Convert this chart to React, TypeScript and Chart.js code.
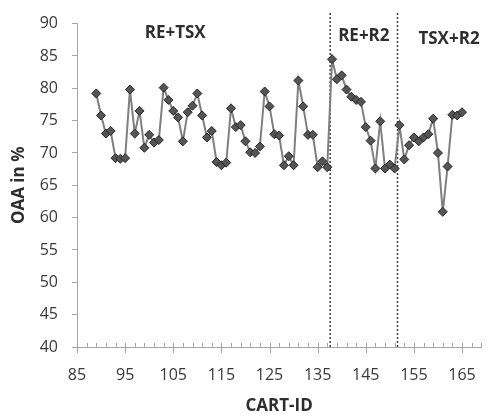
import React, { useEffect, useRef } from "react";
import { Chart, registerables } from "chart.js";

Chart.register(...registerables);

// ---- data ----
const cartIds = [
  89, 90, 91, 92, 93, 94, 95, 96, 97, 98, 99, 100, 101, 102, 103, 104, 105, 106, 107, 108,
  109, 110, 111, 112, 113, 114, 115, 116, 117, 118, 119, 120, 121, 122, 123, 124, 125, 126,
  127, 128, 129, 130, 131, 132, 133, 134, 135, 136, 137, 138, 139, 140, 141, 142, 143, 144,
  145, 146, 147, 148, 149, 150, 151, 152, 153, 154, 155, 156, 157, 158, 159, 160, 161, 162,
  163, 164, 165,
];
const oaaValues = [
  79.2, 75.8, 73.0, 73.4, 69.2, 69.1, 69.2, 79.8, 73.0, 76.5, 70.8, 72.8, 71.6, 72.0, 80.1,
  78.2, 76.5, 75.5, 71.8, 76.3, 77.3, 79.2, 75.8, 72.4, 73.4, 68.6, 68.1, 68.5, 76.9, 74.0,
  74.3, 71.8, 70.1, 70.0, 71.0, 79.5, 77.2, 72.9, 72.7, 68.1, 69.5, 68.1, 81.2, 77.2, 72.8,
  72.8, 67.8, 68.7, 67.8, 84.5, 81.4, 82.0, 79.8, 78.7, 78.2, 77.9, 74.0, 71.9, 67.6, 74.9,
  67.6, 68.2, 67.6, 74.3, 69.0, 71.2, 72.4, 71.8, 72.4, 72.9, 75.3, 70.0, 60.9, 67.9, 75.9,
  75.8, 76.3,
];
const xTickLabels = [85, 95, 105, 115, 125, 135, 145, 155, 165];
const xMin = 85;
const xMax = 169;
const xMinorStep = 2;
const yMin = 40;
const yMax = 90;
const yStep = 5;
const regionBoundaries = [137.6, 151.6];
const regionLabels = ["RE+TSX", "RE+R2", "TSX+R2"];
const regionLabelX = [105.4, 144.6, 162.3];
const regionLabelY = [88.5, 88.1, 87.6];
const xTitle = "CART-ID";
const yTitle = "OAA in %";

const FONT = "'Open Sans', 'Liberation Sans', sans-serif";
const AXIS_COLOR = "#A6A6A6";
const TEXT_COLOR = "#3A3A3A";

const overlayPlugin = {
  id: "overlay",
  beforeDatasetsDraw(chart: any) {
    const { ctx, chartArea, scales } = chart;
    const x = scales.x;
    ctx.save();
    ctx.strokeStyle = "#404040";
    ctx.lineWidth = 1.5;
    ctx.setLineDash([2, 2]);
    regionBoundaries.forEach((b) => {
      const px = x.getPixelForValue(b);
      ctx.beginPath();
      ctx.moveTo(px, 13);
      ctx.lineTo(px, chartArea.bottom);
      ctx.stroke();
    });
    ctx.restore();
  },
  afterDraw(chart: any) {
    const { ctx, chartArea, scales } = chart;
    const x = scales.x;
    const y = scales.y;
    ctx.save();
    // x tick marks
    ctx.strokeStyle = AXIS_COLOR;
    ctx.lineWidth = 1;
    const yb = Math.round(chartArea.bottom);
    for (let v = xMin; v <= xMax; v += xMinorStep) {
      const px = Math.round(x.getPixelForValue(v)) + 0.5;
      const major = xTickLabels.includes(v);
      ctx.beginPath();
      ctx.moveTo(px, yb - 4);
      ctx.lineTo(px, major ? yb + 6 : yb);
      ctx.stroke();
    }
    // region labels
    ctx.fillStyle = "#2E2E2E";
    ctx.font = `bold 17px ${FONT}`;
    ctx.textAlign = "center";
    ctx.textBaseline = "middle";
    regionLabels.forEach((t, i) => {
      ctx.fillText(t, x.getPixelForValue(regionLabelX[i]), y.getPixelForValue(regionLabelY[i]));
    });
    // axis titles
    ctx.font = `bold 17px ${FONT}`;
    ctx.fillText(xTitle, (chartArea.left + chartArea.right) / 2, 406);
    ctx.translate(19, (chartArea.top + chartArea.bottom) / 2);
    ctx.rotate(-Math.PI / 2);
    ctx.fillText(yTitle, 0, 0);
    ctx.restore();
  },
};

export default function App() {
  const canvasRef = useRef<HTMLCanvasElement | null>(null);

  useEffect(() => {
    const canvas = canvasRef.current;
    if (!canvas) return;
    const points = cartIds.map((id, i) => ({ x: id, y: oaaValues[i] }));
    const chart = new Chart(canvas, {
      type: "line",
      data: {
        datasets: [
          {
            data: points,
            borderColor: "#7F7F7F",
            borderWidth: 2,
            pointStyle: "rectRot",
            pointRadius: 4.5,
            pointBackgroundColor: "#555555",
            pointBorderColor: "#262626",
            pointBorderWidth: 1,
            tension: 0,
          },
        ],
      },
      options: {
        responsive: false,
        animation: false,
        layout: { padding: { left: 0, right: 1, top: 17, bottom: 0 } },
        plugins: { legend: { display: false }, tooltip: { enabled: false } },
        scales: {
          x: {
            type: "linear",
            min: xMin,
            max: xMax,
            afterBuildTicks: (scale: any) => {
              scale.ticks = xTickLabels.map((v) => ({ value: v }));
            },
            afterFit: (scale: any) => {
              scale.height = 67;
            },
            grid: { display: true, drawOnChartArea: false, drawTicks: false, color: AXIS_COLOR },
            border: { display: true, color: AXIS_COLOR, width: 1 },
            ticks: {
              autoSkip: false,
              maxRotation: 0,
              padding: 19,
              color: TEXT_COLOR,
              font: { family: FONT, size: 16 },
            },
          },
          y: {
            min: yMin,
            max: yMax,
            afterFit: (scale: any) => {
              scale.width = 77;
            },
            grid: { drawOnChartArea: false, drawTicks: true, tickLength: 5, color: AXIS_COLOR },
            border: { display: true, color: AXIS_COLOR, width: 1 },
            ticks: {
              stepSize: yStep,
              padding: 14,
              color: TEXT_COLOR,
              font: { family: FONT, size: 16 },
            },
          },
        },
      },
      plugins: [overlayPlugin],
    });
    return () => chart.destroy();
  }, []);

  return (
    <div style={{ position: "absolute", left: 0, top: 0, width: 495, height: 414, background: "#fff" }}>
      <canvas ref={canvasRef} width={495} height={414} />
    </div>
  );
}
